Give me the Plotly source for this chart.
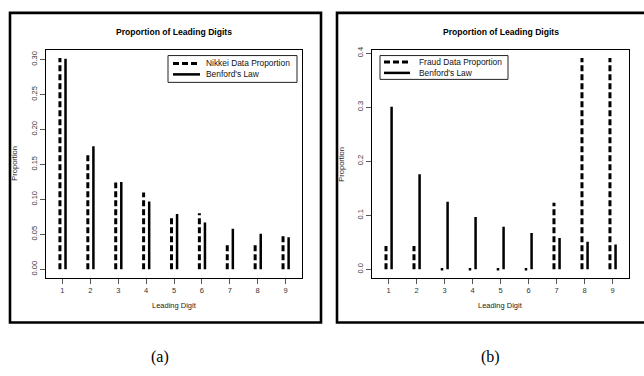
import plotly.graph_objects as go

# ---------------- data ----------------
digits = [1, 2, 3, 4, 5, 6, 7, 8, 9]
digit_labels = ["1", "2", "3", "4", "5", "6", "7", "8", "9"]
nikkei_prop = [0.302, 0.165, 0.124, 0.110, 0.077, 0.080, 0.035, 0.035, 0.050]
fraud_prop = [0.043, 0.043, 0.0, 0.0, 0.0, 0.0, 0.123, 0.391, 0.391]
benford_prop = [0.301, 0.176, 0.125, 0.097, 0.079, 0.067, 0.058, 0.051, 0.046]
names_a = ["Nikkei Data Proportion", "Benford's Law"]
names_b = ["Fraud Data Proportion", "Benford's Law"]
yticks_a = [0.00, 0.05, 0.10, 0.15, 0.20, 0.25, 0.30]
yticklabels_a = ["0.00", "0.05", "0.10", "0.15", "0.20", "0.25", "0.30"]
yticks_b = [0.0, 0.1, 0.2, 0.3, 0.4]
yticklabels_b = ["0.0", "0.1", "0.2", "0.3", "0.4"]
title_text = "Proportion of Leading Digits"
xlabel = "Leading Digit"
ylabel = "Proportion"
captions = ["(a)", "(b)"]

W, H = 644, 376
def px(x):
    return x / W
def py(y):
    return 1 - y / H

DASH = "6px,3px"
OFF_D, OFF_S = -0.09, 0.11

def spikes(xs, ys, off):
    X, Y = [], []
    for x, y in zip(xs, ys):
        X += [x + off, x + off, None]
        Y += [0, y, None]
    return X, Y

fig = go.Figure()

for data, xa, ya in [(nikkei_prop, "x", "y"), (fraud_prop, "x2", "y2")]:
    X, Y = spikes(digits, data, OFF_D)
    fig.add_trace(go.Scatter(x=X, y=Y, mode="lines", xaxis=xa, yaxis=ya,
                             line=dict(color="black", width=3, dash=DASH),
                             showlegend=False, hoverinfo="skip"))
    zx = [d + OFF_D for d, v in zip(digits, data) if v == 0]
    zy = [v for v in data if v == 0]
    if zx:
        fig.add_trace(go.Scatter(x=zx, y=zy, mode="markers", xaxis=xa, yaxis=ya,
                                 marker=dict(symbol="square", size=2.5, color="black",
                                             line=dict(width=0)),
                                 showlegend=False, hoverinfo="skip"))
    X, Y = spikes(digits, benford_prop, OFF_S)
    fig.add_trace(go.Scatter(x=X, y=Y, mode="lines", xaxis=xa, yaxis=ya,
                             line=dict(color="black", width=2.5),
                             showlegend=False, hoverinfo="skip"))

tickfont = dict(family="Liberation Sans", size=7.5, color="#333")
common_x = dict(range=[0.41, 9.59], tickmode="array", tickvals=digits, ticktext=digit_labels,
                ticks="outside", ticklen=5, tickcolor="#555", tickwidth=1,
                showline=True, mirror=True, linecolor="black", linewidth=1,
                showgrid=False, zeroline=False, tickfont=tickfont, fixedrange=True)
common_y = dict(ticks="outside", ticklen=5, tickcolor="#555", tickwidth=1, tickangle=-90,
                showline=True, mirror=True, linecolor="black", linewidth=1,
                showgrid=False, zeroline=False, tickfont=tickfont, fixedrange=True,
                tickmode="array")

ydom = [py(277), py(47)]
fig.update_layout(
    width=W, height=H, margin=dict(l=0, r=0, t=0, b=0),
    paper_bgcolor="white", plot_bgcolor="white", showlegend=False,
    xaxis=dict(domain=[px(46), px(302)], anchor="y", **common_x),
    xaxis2=dict(domain=[px(372), px(629)], anchor="y2", **common_x),
    yaxis=dict(domain=ydom, anchor="x", range=[-0.0121, 0.3141],
               tickvals=yticks_a, ticktext=yticklabels_a, **common_y),
    yaxis2=dict(domain=ydom, anchor="x2", range=[-0.0157, 0.4067],
                tickvals=yticks_b, ticktext=yticklabels_b, **common_y),
)

shapes = []
annotations = []
# outer frames
for x0, x1 in [(10, 321), (337, 648)]:
    shapes.append(dict(type="rect", xref="paper", yref="paper",
                       x0=px(x0), x1=px(x1), y0=py(322), y1=py(10),
                       line=dict(color="black", width=2.6), fillcolor="rgba(0,0,0,0)"))

LEG_FONT = 8.4
LINE_GAP = LEG_FONT * 1.3
panels = [
    dict(cx=(46 + 302) / 2, ylab_x=15, names=names_a,
         box=(168, 297, 53, 80), lx=(173, 200), tx=205, cap_x=160),
    dict(cx=(372 + 629) / 2, ylab_x=342, names=names_b,
         box=(380, 508, 53, 77), lx=(384, 410), tx=418, cap_x=490),
]
for i, p in enumerate(panels):
    annotations.append(dict(text="<b>" + title_text + "</b>", xref="paper", yref="paper",
                            x=px(p["cx"]), y=py(29), showarrow=False,
                            xanchor="center", yanchor="middle",
                            font=dict(family="Liberation Sans", size=8.6, color="black")))
    annotations.append(dict(text=xlabel, xref="paper", yref="paper",
                            x=px(p["cx"]), y=py(305), showarrow=False,
                            xanchor="center", yanchor="middle",
                            font=dict(family="Liberation Sans", size=7.5, color="#222")))
    annotations.append(dict(text=ylabel, xref="paper", yref="paper", textangle=-90,
                            x=px(p["ylab_x"]), y=py(162), showarrow=False,
                            xanchor="center", yanchor="middle",
                            font=dict(family="Liberation Sans", size=7.5, color="#222")))
    annotations.append(dict(text=captions[i], xref="paper", yref="paper",
                            x=px(p["cap_x"]), y=py(357), showarrow=False,
                            xanchor="center", yanchor="middle",
                            font=dict(family="Liberation Sans", size=16, color="black")
                            if False else dict(family="Liberation Serif", size=16, color="black")))
    bx0, bx1, by0, by1 = p["box"]
    shapes.append(dict(type="rect", xref="paper", yref="paper",
                       x0=px(bx0), x1=px(bx1), y0=py(by1), y1=py(by0),
                       line=dict(color="#222", width=1), fillcolor="white"))
    cy = (by0 + by1) / 2
    rows = [cy - LINE_GAP / 2, cy + LINE_GAP / 2]
    styles = [dict(color="black", width=3, dash=DASH), dict(color="black", width=2.5)]
    for row, st in zip(rows, styles):
        shapes.append(dict(type="line", xref="paper", yref="paper",
                           x0=px(p["lx"][0]), x1=px(p["lx"][1]), y0=py(row), y1=py(row),
                           line=st))
    annotations.append(dict(text="<br>".join(p["names"]), xref="paper", yref="paper",
                            x=px(p["tx"]), y=py(cy), showarrow=False, align="left",
                            xanchor="left", yanchor="middle", borderpad=0,
                            font=dict(family="Liberation Sans", size=LEG_FONT, color="#111")))

fig.update_layout(shapes=shapes, annotations=annotations)
fig.write_html("out.html")
